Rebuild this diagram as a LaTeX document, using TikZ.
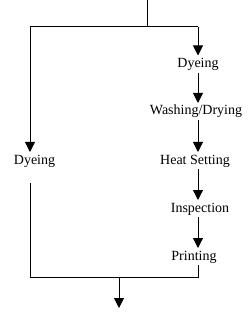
\documentclass[tikz,border=0pt]{standalone}
\usepackage{fontspec}
\setmainfont{Liberation Serif}
\usetikzlibrary{arrows.meta}

\begin{document}
\begin{tikzpicture}[x=0.75pt,y=-0.75pt,line width=0.75pt,
    stage/.style={inner sep=0pt, outer xsep=0pt, outer ysep=1.5pt, text height=7.5pt, text depth=2.5pt, font=\fontsize{10.5}{12}\selectfont},
    flow/.style={-{Triangle[width=7.5pt,length=7.5pt]}}]
  \useasboundingbox (0,0) rectangle (249,313);
  \coordinate (in) at (147,0);
  \coordinate (split) at (147,27);
  \coordinate (tl) at (30,27);
  \coordinate (tr) at (198,27);
  \coordinate (lresume) at (30,183);
  \coordinate (bl) at (30,277);
  \coordinate (br) at (198,277);
  \coordinate (join) at (119,277);
  \coordinate (out) at (119,308);
  % right branch
  \node[stage, anchor=base] (dyeR) at (198,67.5) {Dyeing};
  \node[stage, anchor=base] (wash) at (196,115) {Washing/Drying};
  \node[stage, anchor=base] (heat) at (195,164) {Heat Setting};
  \node[stage, anchor=base] (insp) at (200,212) {Inspection};
  \node[stage, anchor=base] (prnt) at (194,260) {Printing};
  % left branch
  \node[stage, anchor=base] (dyeL) at (34.5,164) {Dyeing};
  \draw (in) -- (split);
  \draw (tl) -- (tr);
  \draw[flow] (tr) -- (dyeR.north -| tr);
  \draw[flow] (dyeR.south -| tr) -- (wash.north -| tr);
  \draw[flow] (wash.south -| tr) -- (heat.north -| tr);
  \draw[flow] (heat.south -| tr) -- (insp.north -| tr);
  \draw[flow] (insp.south -| tr) -- (prnt.north -| tr);
  \draw[flow] (tl) -- (tl |- dyeL.north);
  \draw (prnt.south -| tr) -- (br) -- (bl) -- (lresume);
  \draw[flow] (join) -- (out);
\end{tikzpicture}
\end{document}
